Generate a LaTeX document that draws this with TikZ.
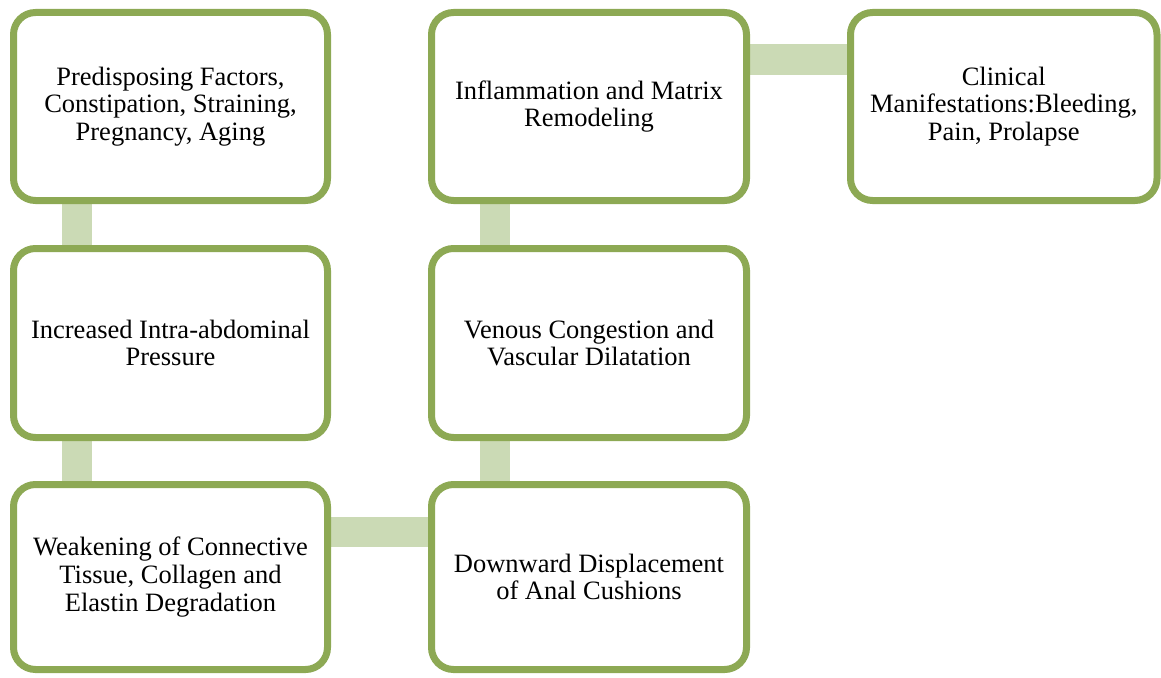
\documentclass[tikz,border=0pt]{standalone}
\usepackage{fontspec}
\setmainfont{Liberation Serif}
\usetikzlibrary{shadows,backgrounds}
\definecolor{boxgreen}{HTML}{8DA954}
\definecolor{linkgreen}{HTML}{CBDAB5}
\begin{document}
\begin{tikzpicture}[x=1pt,y=-1pt,
  box/.style={draw=boxgreen, line width=7pt, fill=white, rounded corners=22pt,
    align=center, font=\fontsize{26.5}{27.8}\selectfont, inner sep=0pt,
    drop shadow={opacity=0.18, shadow xshift=2pt, shadow yshift=-3pt}},
  colA/.style={minimum width=314pt},
  colB/.style={minimum width=315pt},
  colC/.style={minimum width=306.5pt},
  link/.style={draw=linkgreen, line width=30pt}]
\useasboundingbox (0,0) rectangle (1161,677);
\node[box, colA, minimum height=188pt] (pre) at (170.5,106.5) {Predisposing Factors,\\Constipation, Straining,\\Pregnancy, Aging};
\node[box, colA, minimum height=189pt] (iap) at (170.5,343) {Increased Intra-abdominal\\Pressure};
\node[box, colA, minimum height=185pt] (wcc) at (170.5,577) {Weakening of Connective\\Tissue, Collagen and\\Elastin Degradation};
\node[box, colB, minimum height=185pt] (dad) at (589,577) {Downward Displacement\\of Anal Cushions};
\node[box, colB, minimum height=189pt] (vcd) at (589,343) {Venous Congestion and\\Vascular Dilatation};
\node[box, colB, minimum height=188pt] (inf) at (589,106.5) {Inflammation and Matrix\\Remodeling};
\node[box, colC, minimum height=188pt] (cli) at (1003.75,106.5) {Clinical\\Manifestations:Bleeding,\\Pain, Prolapse};
\begin{scope}[on background layer]
\draw[link] ([xshift=-93.5pt]pre.south) -- ([xshift=-93.5pt]iap.north);
\draw[link] ([xshift=-93.5pt]iap.south) -- ([xshift=-93.5pt]wcc.north);
\draw[link] ([yshift=45.5pt]wcc.east) -- ([yshift=45.5pt]dad.west);
\draw[link] ([xshift=-94pt]dad.north) -- ([xshift=-94pt]vcd.south);
\draw[link] ([xshift=-94pt]vcd.north) -- ([xshift=-94pt]inf.south);
\draw[link] ([yshift=47pt]inf.east) -- ([yshift=47pt]cli.west);
\end{scope}
\end{tikzpicture}
\end{document}
